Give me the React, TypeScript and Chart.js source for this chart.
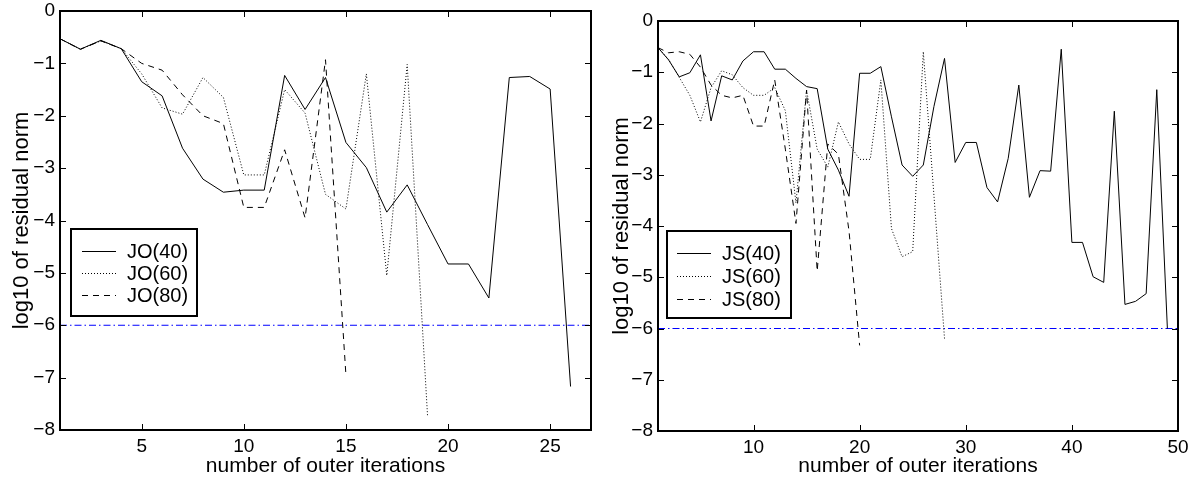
import React, { useEffect, useRef } from 'react';
import { Chart, registerables } from 'chart.js';

Chart.register(...registerables);

// ---------- data ----------
const jo40 = [-0.53, -0.73, -0.56, -0.72, -1.35, -1.62, -2.62, -3.21, -3.46, -3.42, -3.42, -1.23, -1.88, -1.27, -2.51, -2.99, -3.84, -3.32, -4.08, -4.83, -4.83, -5.48, -1.27, -1.25, -1.49, -7.17];
const jo60 = [-0.53, -0.73, -0.57, -0.72, -1.2, -1.85, -1.97, -1.27, -1.65, -3.13, -3.13, -1.5, -1.95, -3.5, -3.78, -1.2, -5.05, -1.02, -7.75];
const jo80 = [-0.53, -0.73, -0.57, -0.72, -1.0, -1.13, -1.6, -2.0, -2.15, -3.75, -3.75, -2.65, -3.95, -0.93, -6.95];

const js40 = [-0.52, -0.76, -1.09, -1.01, -0.66, -1.95, -1.07, -1.15, -0.78, -0.6, -0.6, -0.94, -0.94, -1.12, -1.28, -1.32, -2.5, -2.91, -3.42, -1.02, -1.02, -0.89, -1.87, -2.81, -3.03, -2.81, -1.67, -0.73, -2.76, -2.37, -2.37, -3.25, -3.53, -2.68, -1.25, -3.44, -2.92, -2.93, -0.55, -4.32, -4.32, -4.99, -5.1, -1.76, -5.53, -5.47, -5.32, -1.34, -6.0];
const js60 = [-0.52, -0.75, -1.1, -1.45, -1.97, -1.3, -0.97, -1.05, -1.3, -1.45, -1.45, -1.3, -1.75, -3.55, -1.35, -2.5, -2.85, -1.97, -2.4, -2.7, -2.7, -1.15, -4.05, -4.6, -4.5, -0.6, -3.4, -6.2];
const js80 = [-0.52, -0.62, -0.6, -0.65, -0.9, -1.25, -1.45, -1.5, -1.45, -2.05, -2.05, -1.15, -2.5, -3.95, -1.35, -4.88, -2.4, -2.6, -4.1, -6.33];

const leftLabels = ['JO(40)', 'JO(60)', 'JO(80)'];
const rightLabels = ['JS(40)', 'JS(60)', 'JS(80)'];

const leftXRange = [1, 27];
const rightXRange = [1, 50];
const yRange = [-8, 0];
const leftXTicks = [5, 10, 15, 20, 25];
const rightXTicks = [10, 20, 30, 40, 50];
const yTicks = [0, -1, -2, -3, -4, -5, -6, -7, -8];
const toleranceLevel = -6;

const xTitle = 'number of outer iterations';
const yTitle = 'log10 of residual norm';

// ---------- styling ----------
const FONT = '"Liberation Sans", Arial, Helvetica, sans-serif';
const seriesStyles = [
  { color: '#000000', dash: [] as number[] },
  { color: '#000000', dash: [1, 2] },
  { color: '#000000', dash: [6, 5] },
];
const toleranceStyle = { color: '#0000ff', dash: [7, 3, 1.5, 3] };

const toPoints = (arr: number[]) => arr.map((y, i) => ({ x: i + 1, y }));
const fmtMinus = (v: number) => (v < 0 ? '\u2212' + Math.abs(v) : String(v));

type LegendSpec = {
  x: number; y: number; w: number; h: number;
  rows: number[]; lineX1: number; lineX2: number; textX: number;
  labels: string[];
};

function makeFramePlugin(legend: LegendSpec) {
  return {
    id: 'matlabFrame',
    afterDatasetsDraw(chart: any) {
      const { ctx, chartArea: a, scales } = chart;
      const tl = 6;
      ctx.save();
      ctx.strokeStyle = '#000';
      ctx.lineWidth = 1;
      ctx.setLineDash([]);
      const seg = (x1: number, y1: number, x2: number, y2: number) => {
        ctx.beginPath();
        ctx.moveTo(x1, y1);
        ctx.lineTo(x2, y2);
        ctx.stroke();
      };
      scales.x.ticks.forEach((t: any) => {
        const px = Math.round(scales.x.getPixelForValue(t.value)) + 0.5;
        seg(px, a.bottom, px, a.bottom - tl);
        seg(px, a.top, px, a.top + tl);
      });
      scales.y.ticks.forEach((t: any) => {
        const py = Math.round(scales.y.getPixelForValue(t.value)) + 0.5;
        seg(a.left, py, a.left + tl, py);
        seg(a.right, py, a.right - tl, py);
      });
      // axes box
      ctx.lineWidth = 2;
      ctx.strokeRect(a.left, a.top, a.right - a.left, a.bottom - a.top);

      // legend
      ctx.fillStyle = '#fff';
      ctx.fillRect(legend.x, legend.y, legend.w, legend.h);
      ctx.lineWidth = 2;
      ctx.strokeStyle = '#000';
      ctx.strokeRect(legend.x, legend.y, legend.w, legend.h);
      ctx.font = '20px ' + FONT;
      ctx.textBaseline = 'middle';
      ctx.textAlign = 'left';
      legend.labels.forEach((lab, i) => {
        const st = seriesStyles[i];
        const ry = legend.rows[i];
        ctx.lineWidth = 1;
        ctx.strokeStyle = st.color;
        ctx.setLineDash(st.dash);
        seg(legend.lineX1, ry + 0.5, legend.lineX2, ry + 0.5);
        ctx.setLineDash([]);
        ctx.fillStyle = '#000';
        ctx.fillText(lab, legend.textX, ry + 1);
      });
      ctx.restore();
    },
  };
}

function buildConfig(opts: {
  series: number[][];
  labels: string[];
  xRange: number[];
  xTicks: number[];
  padTop: number;
  padRight: number;
  yAxisWidth: number;
  xAxisHeight: number;
  yTitlePad: number;
  legend: LegendSpec;
}) {
  const datasets: any[] = opts.series.map((s, i) => ({
    label: opts.labels[i],
    data: toPoints(s),
    borderColor: seriesStyles[i].color,
    borderDash: seriesStyles[i].dash,
    borderWidth: 1,
    pointRadius: 0,
    tension: 0,
    fill: false,
  }));
  datasets.push({
    label: 'tolerance',
    data: [
      { x: opts.xRange[0], y: toleranceLevel },
      { x: opts.xRange[1], y: toleranceLevel },
    ],
    borderColor: toleranceStyle.color,
    borderDash: toleranceStyle.dash,
    borderWidth: 1,
    pointRadius: 0,
    fill: false,
  });

  return {
    type: 'line' as const,
    data: { datasets },
    plugins: [makeFramePlugin(opts.legend)],
    options: {
      responsive: false,
      animation: false as const,
      events: [] as any[],
      devicePixelRatio: 1,
      layout: { padding: { top: opts.padTop, right: opts.padRight, left: 0, bottom: 0 } },
      plugins: {
        legend: { display: false },
        tooltip: { enabled: false },
      },
      scales: {
        x: {
          type: 'linear' as const,
          min: opts.xRange[0],
          max: opts.xRange[1],
          grid: { display: false, drawTicks: false },
          border: { display: false },
          afterBuildTicks: (s: any) => {
            s.ticks = opts.xTicks.map((v) => ({ value: v }));
          },
          afterFit: (s: any) => {
            s.height = opts.xAxisHeight;
            s.paddingLeft = 0;
            s.paddingRight = 0;
          },
          ticks: {
            color: '#000',
            font: { family: FONT, size: 19 },
            padding: 5,
            maxRotation: 0,
            autoSkip: false,
            callback: (v: any) => fmtMinus(Number(v)),
          },
          title: {
            display: true,
            text: xTitle,
            color: '#000',
            font: { family: FONT, size: 21 },
            padding: { top: 0, bottom: 1 },
          },
        },
        y: {
          type: 'linear' as const,
          min: yRange[0],
          max: yRange[1],
          grid: { display: false, drawTicks: false },
          border: { display: false },
          afterBuildTicks: (s: any) => {
            s.ticks = yTicks.map((v) => ({ value: v }));
          },
          afterFit: (s: any) => {
            s.width = opts.yAxisWidth;
            s.paddingTop = 0;
            s.paddingBottom = 0;
          },
          ticks: {
            color: '#000',
            font: { family: FONT, size: 19 },
            padding: 5,
            autoSkip: false,
            callback: (v: any) => fmtMinus(Number(v)),
          },
          title: {
            display: true,
            text: yTitle,
            color: '#000',
            font: { family: FONT, size: 22 },
            padding: { top: opts.yTitlePad, bottom: 0 },
          },
        },
      },
    },
  };
}

export default function App() {
  const leftRef = useRef<HTMLCanvasElement | null>(null);
  const rightRef = useRef<HTMLCanvasElement | null>(null);

  useEffect(() => {
    Chart.defaults.font.family = FONT;
    const left = new Chart(
      leftRef.current as HTMLCanvasElement,
      buildConfig({
        series: [jo40, jo60, jo80],
        labels: leftLabels,
        xRange: leftXRange,
        xTicks: leftXTicks,
        padTop: 11,
        padRight: 7,
        yAxisWidth: 60,
        xAxisHeight: 50,
        yTitlePad: 9,
        legend: {
          x: 71, y: 229, w: 126, h: 87,
          rows: [251, 273, 295],
          lineX1: 82, lineX2: 116, textX: 127,
          labels: leftLabels,
        },
      }) as any
    );
    const right = new Chart(
      rightRef.current as HTMLCanvasElement,
      buildConfig({
        series: [js40, js60, js80],
        labels: rightLabels,
        xRange: rightXRange,
        xTicks: rightXTicks,
        padTop: 21,
        padRight: 18,
        yAxisWidth: 60,
        xAxisHeight: 49,
        yTitlePad: 11,
        legend: {
          x: 69, y: 231, w: 124, h: 87,
          rows: [253, 276, 299],
          lineX1: 79, lineX2: 113, textX: 124,
          labels: rightLabels,
        },
      }) as any
    );
    return () => {
      left.destroy();
      right.destroy();
    };
  }, []);

  return (
    <div style={{ position: 'absolute', left: 0, top: 0, width: 1196, height: 480, background: '#fff' }}>
      <canvas ref={leftRef} width={598} height={480} style={{ position: 'absolute', left: 0, top: 0 }} />
      <canvas ref={rightRef} width={598} height={480} style={{ position: 'absolute', left: 598, top: 0 }} />
    </div>
  );
}
